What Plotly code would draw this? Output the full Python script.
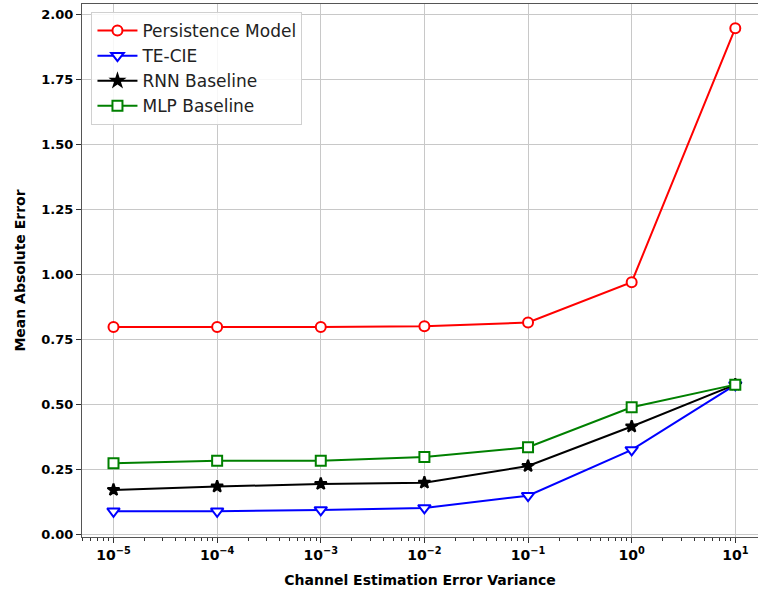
import plotly.graph_objects as go

# Channel estimation error variance (x) and mean absolute error of each model
variance = [1e-5, 1e-4, 1e-3, 1e-2, 1e-1, 1e0, 1e1]
persistence_mae = [0.800, 0.800, 0.800, 0.803, 0.817, 0.972, 1.949]
te_cie_mae = [0.091, 0.091, 0.096, 0.104, 0.151, 0.327, 0.577]
rnn_mae = [0.173, 0.186, 0.196, 0.201, 0.265, 0.417, 0.578]
mlp_mae = [0.276, 0.285, 0.285, 0.300, 0.337, 0.491, 0.578]

x_tick_vals = [1e-5, 1e-4, 1e-3, 1e-2, 1e-1, 1e0, 1e1]
x_tick_text = ["10<sup>−5</sup>", "10<sup>−4</sup>", "10<sup>−3</sup>", "10<sup>−2</sup>",
               "10<sup>−1</sup>", "10<sup>0</sup>", "10<sup>1</sup>"]
y_tick_vals = [0.0, 0.25, 0.5, 0.75, 1.0, 1.25, 1.5, 1.75, 2.0]

# name, values, colour, marker symbol, marker size, marker fill
series = [
    ("Persistence Model", persistence_mae, "#ff0000", "circle", 10, "white"),
    ("TE-CIE", te_cie_mae, "#0000ff", "triangle-down", 11, "white"),
    ("RNN Baseline", rnn_mae, "#000000", "star", 9, "#000000"),
    ("MLP Baseline", mlp_mae, "#008000", "square", 10, "white"),
]

FONT = "DejaVu Sans"

fig = go.Figure()
for name, values, color, symbol, size, fill in series:
    fig.add_trace(go.Scatter(
        x=variance, y=values, name=name, mode="lines+markers",
        line=dict(color=color, width=2),
        marker=dict(symbol=symbol, size=size, color=fill,
                    line=dict(color=color, width=2)),
    ))

# minor ticks at 2..9 x 10^k on the log axis
minor_vals = [m * 10.0 ** e for e in range(-6, 2) for m in range(2, 10)]

fig.update_layout(
    width=758, height=597,
    margin=dict(l=82, r=0, t=4, b=60),
    paper_bgcolor="white", plot_bgcolor="white",
    font=dict(family=FONT, color="black"),
    showlegend=True,
    legend=dict(
        x=0.014, y=0.985, xanchor="left", yanchor="top",
        bgcolor="rgba(255,255,255,0.85)", bordercolor="#d0d0d0", borderwidth=1,
        font=dict(family=FONT, size=17, color="#222"),
        itemwidth=40,
    ),
    xaxis=dict(
        type="log", range=[-5.304, 1.219],
        tickvals=x_tick_vals, ticktext=x_tick_text,
        tickfont=dict(family=FONT, size=14, color="black", weight="bold"),
        ticks="outside", ticklen=5, tickwidth=1, tickcolor="#333",
        showgrid=True, gridcolor="#c8c8c8", gridwidth=1,
        showline=True, linecolor="#555", linewidth=1, mirror=True,
        zeroline=False,
        minor=dict(tickvals=minor_vals, ticks="outside", ticklen=3,
                   tickcolor="#333", showgrid=False),
        title=dict(text="Channel Estimation Error Variance",
                   font=dict(family=FONT, size=14, color="black", weight="bold"),
                   standoff=13),
    ),
    yaxis=dict(
        range=[-0.008, 2.042],
        tickvals=y_tick_vals, tickformat=".2f",
        tickfont=dict(family=FONT, size=13, color="black", weight="bold"),
        ticks="outside", ticklen=5, tickwidth=1, tickcolor="#333",
        showgrid=True, gridcolor="#c8c8c8", gridwidth=1,
        showline=True, linecolor="#555", linewidth=1, mirror=False,
        zeroline=False,
        title=dict(text="Mean Absolute Error",
                   font=dict(family=FONT, size=14, color="black", weight="bold"),
                   standoff=12),
    ),
)

fig.write_html("out.html")
